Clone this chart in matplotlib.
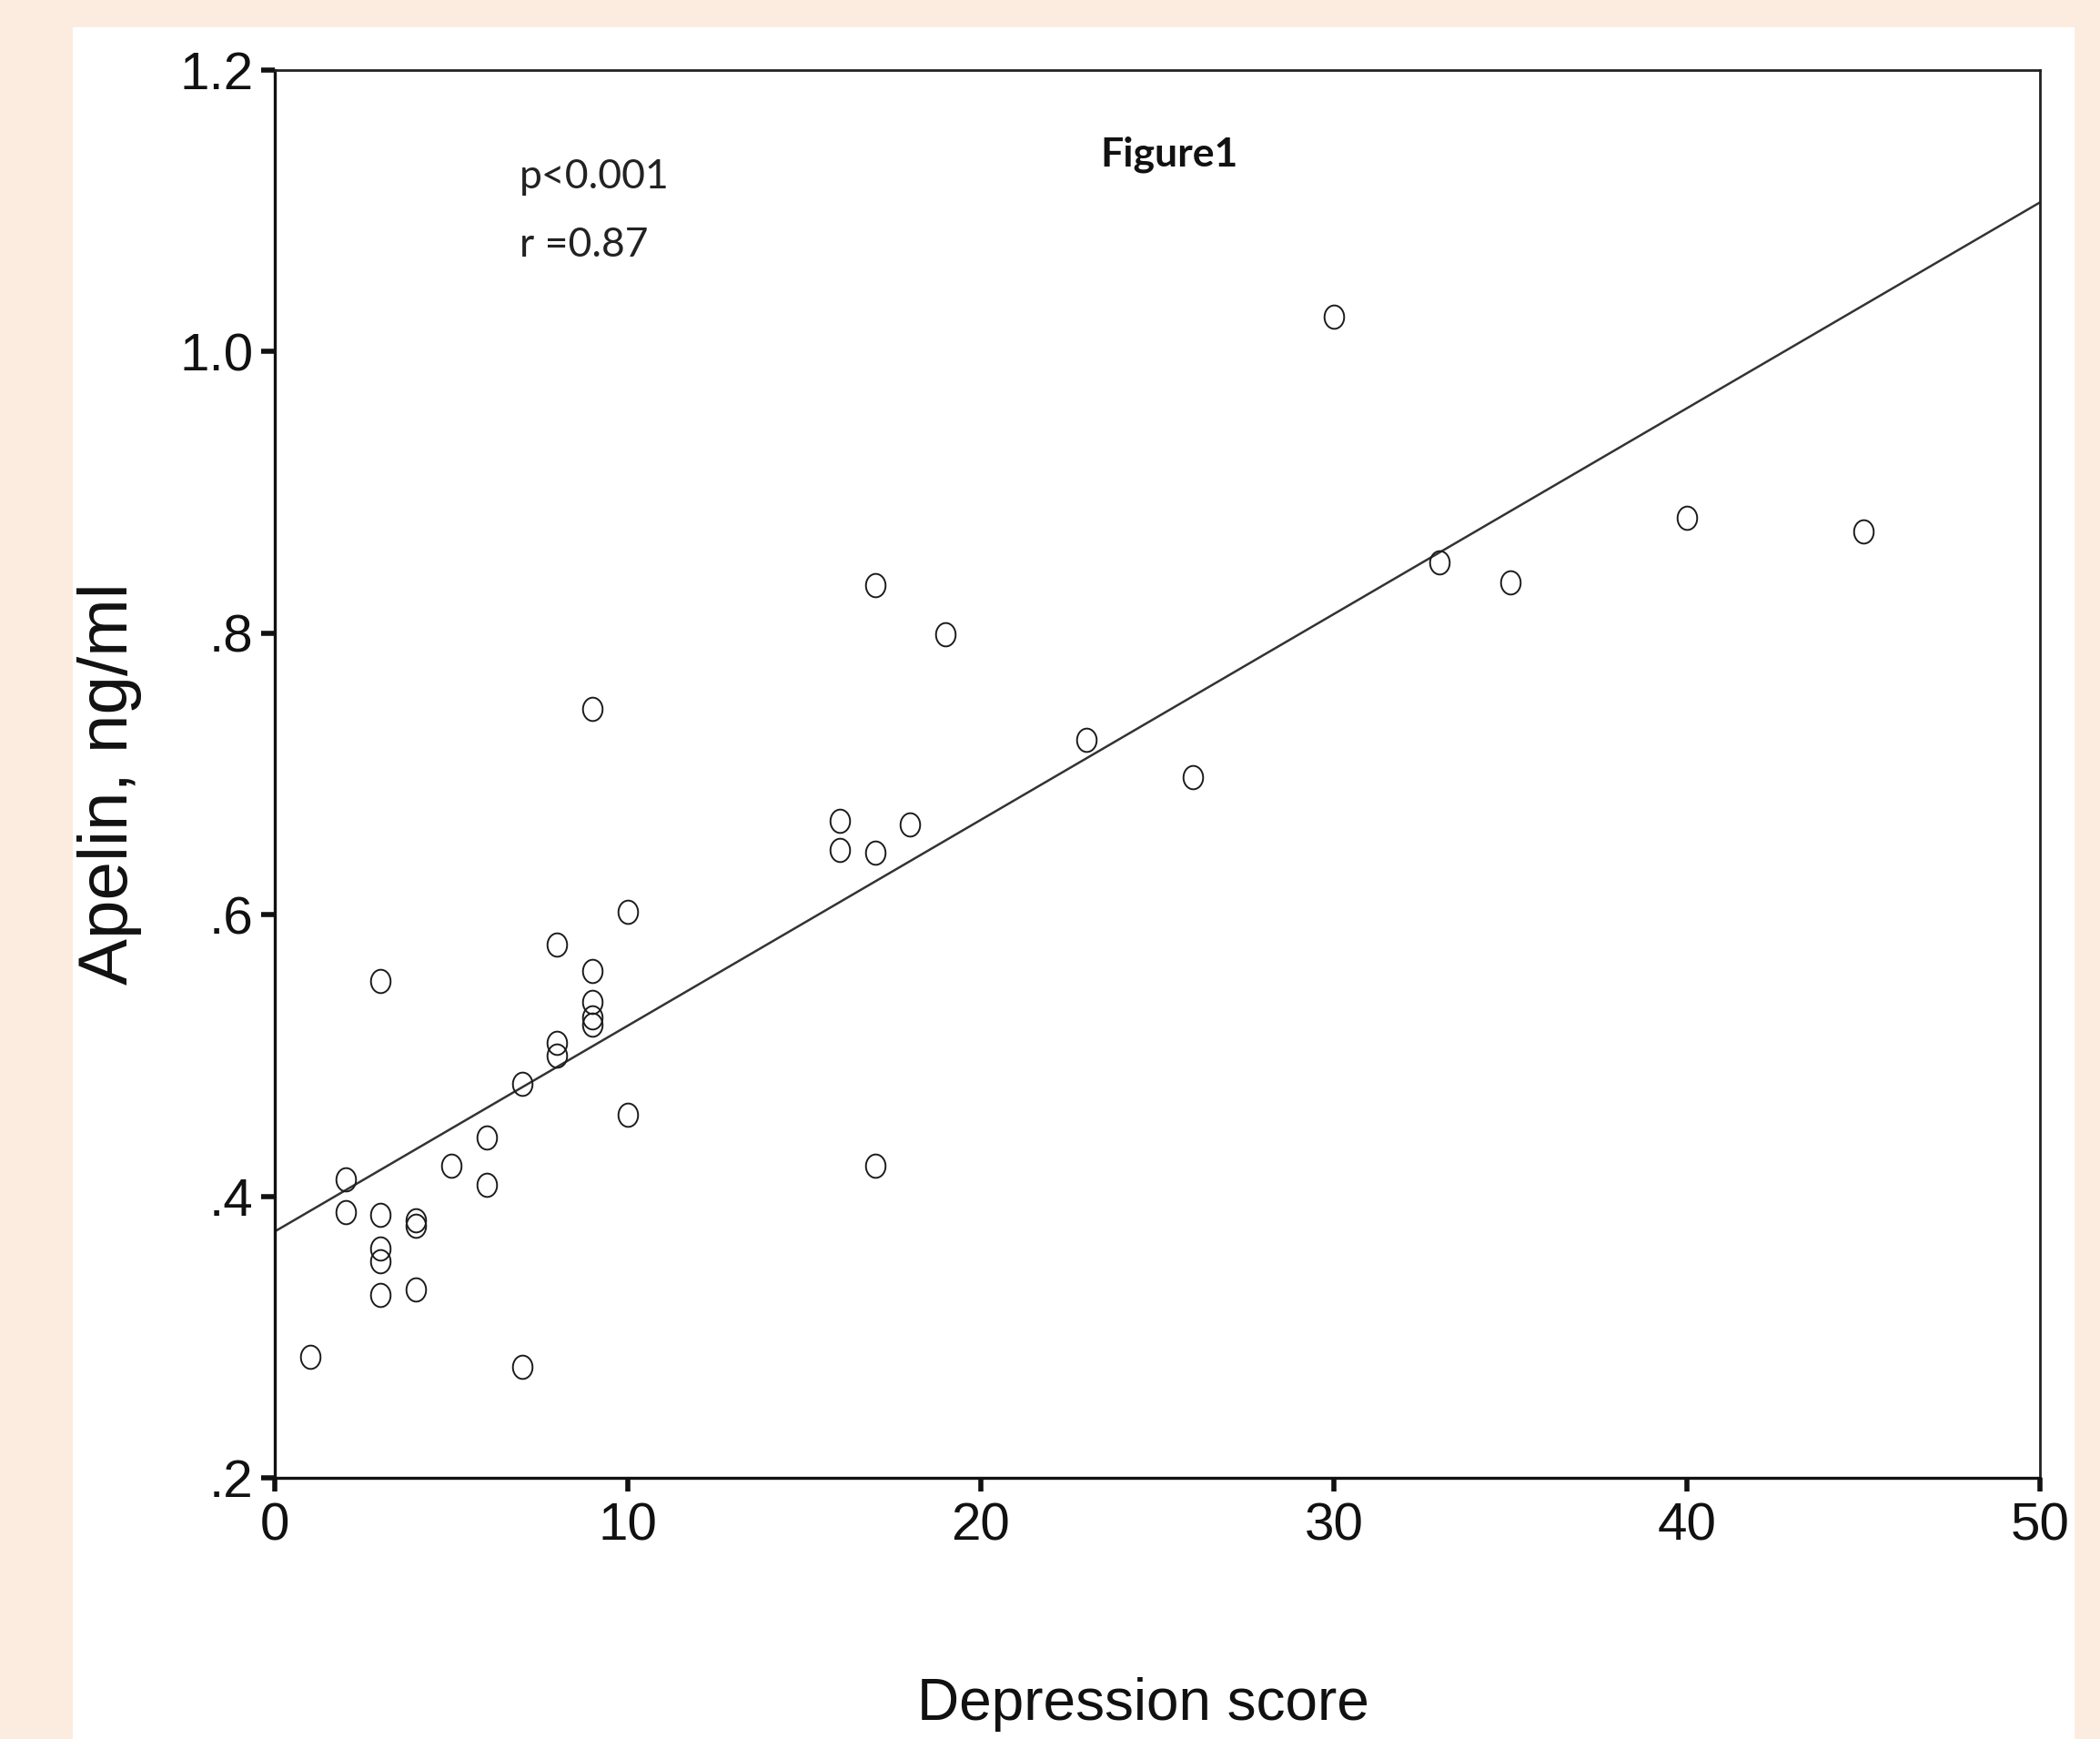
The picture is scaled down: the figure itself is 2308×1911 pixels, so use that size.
import matplotlib
matplotlib.use("Agg")
import matplotlib.pyplot as plt
from matplotlib.path import Path
from matplotlib.patches import Rectangle
from matplotlib import font_manager
import numpy as np

# ---- data ----
depression_score = [1, 2, 2, 3, 3, 3, 3, 3, 4, 4, 4, 5, 6, 6, 7, 7, 8, 8, 8,
                    9, 9, 9, 9, 9, 10, 10, 16, 16, 17, 17, 17, 18, 19, 23, 26,
                    30, 33, 35, 40, 45]
apelin = [0.286, 0.412, 0.389, 0.553, 0.387, 0.363, 0.354, 0.330, 0.383, 0.379,
          0.334, 0.422, 0.442, 0.408, 0.480, 0.279, 0.579, 0.509, 0.500,
          0.746, 0.560, 0.538, 0.527, 0.522, 0.602, 0.458, 0.667, 0.646,
          0.834, 0.644, 0.422, 0.664, 0.799, 0.724, 0.698, 1.025, 0.850,
          0.836, 0.882, 0.872]
fit_intercept = 0.375
fit_slope = 0.01462
fit_x_range = [0, 50]

x_ticks = [0, 10, 20, 30, 40, 50]
x_tick_labels = ["0", "10", "20", "30", "40", "50"]
y_ticks = [0.2, 0.4, 0.6, 0.8, 1.0, 1.2]
y_tick_labels = [".2", ".4", ".6", ".8", "1.0", "1.2"]

x_label = "Depression score"
y_label = "Apelin, ng/ml"
title_text = "Figure1"
stat_lines = ["p<0.001", "r =0.87"]

# ---- fonts ----
names = {f.name for f in font_manager.fontManager.ttflist}
base = "Liberation Sans"
annot = "Lato" if "Lato" in names else "DejaVu Sans"

W, H = 2308, 1911
fig = plt.figure(figsize=(W / 100, H / 100), dpi=100)
fig.patch.set_facecolor("#fcece0")

# white panel
fig.patches.append(Rectangle((80 / W, 0), (2280 - 80) / W, 1 - 30 / H,
                             transform=fig.transFigure, facecolor="white",
                             edgecolor="none", zorder=-5))

ax = fig.add_axes([302 / W, 1 - 1624 / H, 1940 / W, 1547 / H])
ax.set_zorder(2)
ax.set_facecolor("white")

# elliptical open marker (slightly taller than wide)
t = np.linspace(0, 2 * np.pi, 60)
ell = Path(np.column_stack([0.42 * np.cos(t), 0.5 * np.sin(t)]))

ax.plot(depression_score, apelin, linestyle="none", marker=ell, ms=18.5,
        mfc="none", mec="#1c1c1c", mew=1.4, zorder=3)

fx = np.array(fit_x_range, dtype=float)
ax.plot(fx, fit_intercept + fit_slope * fx, color="#333333", lw=1.8, zorder=2)

ax.set_xlim(0, 50)
ax.set_ylim(0.2, 1.2)
ax.set_xticks(x_ticks, x_tick_labels)
ax.set_yticks(y_ticks, y_tick_labels)

for side in ["left", "bottom"]:
    ax.spines[side].set_linewidth(2.4)
    ax.spines[side].set_color("#111111")
for side in ["top", "right"]:
    ax.spines[side].set_linewidth(2.0)
    ax.spines[side].set_color("#222222")

ax.tick_params(axis="both", direction="out", length=11, width=4,
               color="#111111", labelcolor="#111111")
ax.tick_params(axis="x", pad=8)
ax.tick_params(axis="y", pad=6)
for lab in ax.get_xticklabels() + ax.get_yticklabels():
    lab.set_fontfamily(base)
    lab.set_fontsize(42)

# axis labels
fig.text(1256 / W, 1 - 1890 / H, x_label, ha="center", va="baseline",
         fontsize=46, family=base, color="#111111")
fig.text(121 / W, 1 - 861 / H, y_label, ha="center", va="center",
         rotation=90, fontsize=55, family=base, color="#111111")

# annotations
ax.text((1285 - 302) / 1940, (1624 - 183) / 1547, title_text,
        transform=ax.transAxes, ha="center", va="baseline",
        fontsize=32, fontweight="bold", family=annot, color="#111111")
ax.text((571 - 302) / 1940, (1624 - 207) / 1547, stat_lines[0],
        transform=ax.transAxes, ha="left", va="baseline",
        fontsize=32, family=annot, color="#222222")
ax.text((571 - 302) / 1940, (1624 - 282) / 1547, stat_lines[1],
        transform=ax.transAxes, ha="left", va="baseline",
        fontsize=32, family=annot, color="#222222")

fig.savefig("out.png", dpi=100, facecolor=fig.get_facecolor())
